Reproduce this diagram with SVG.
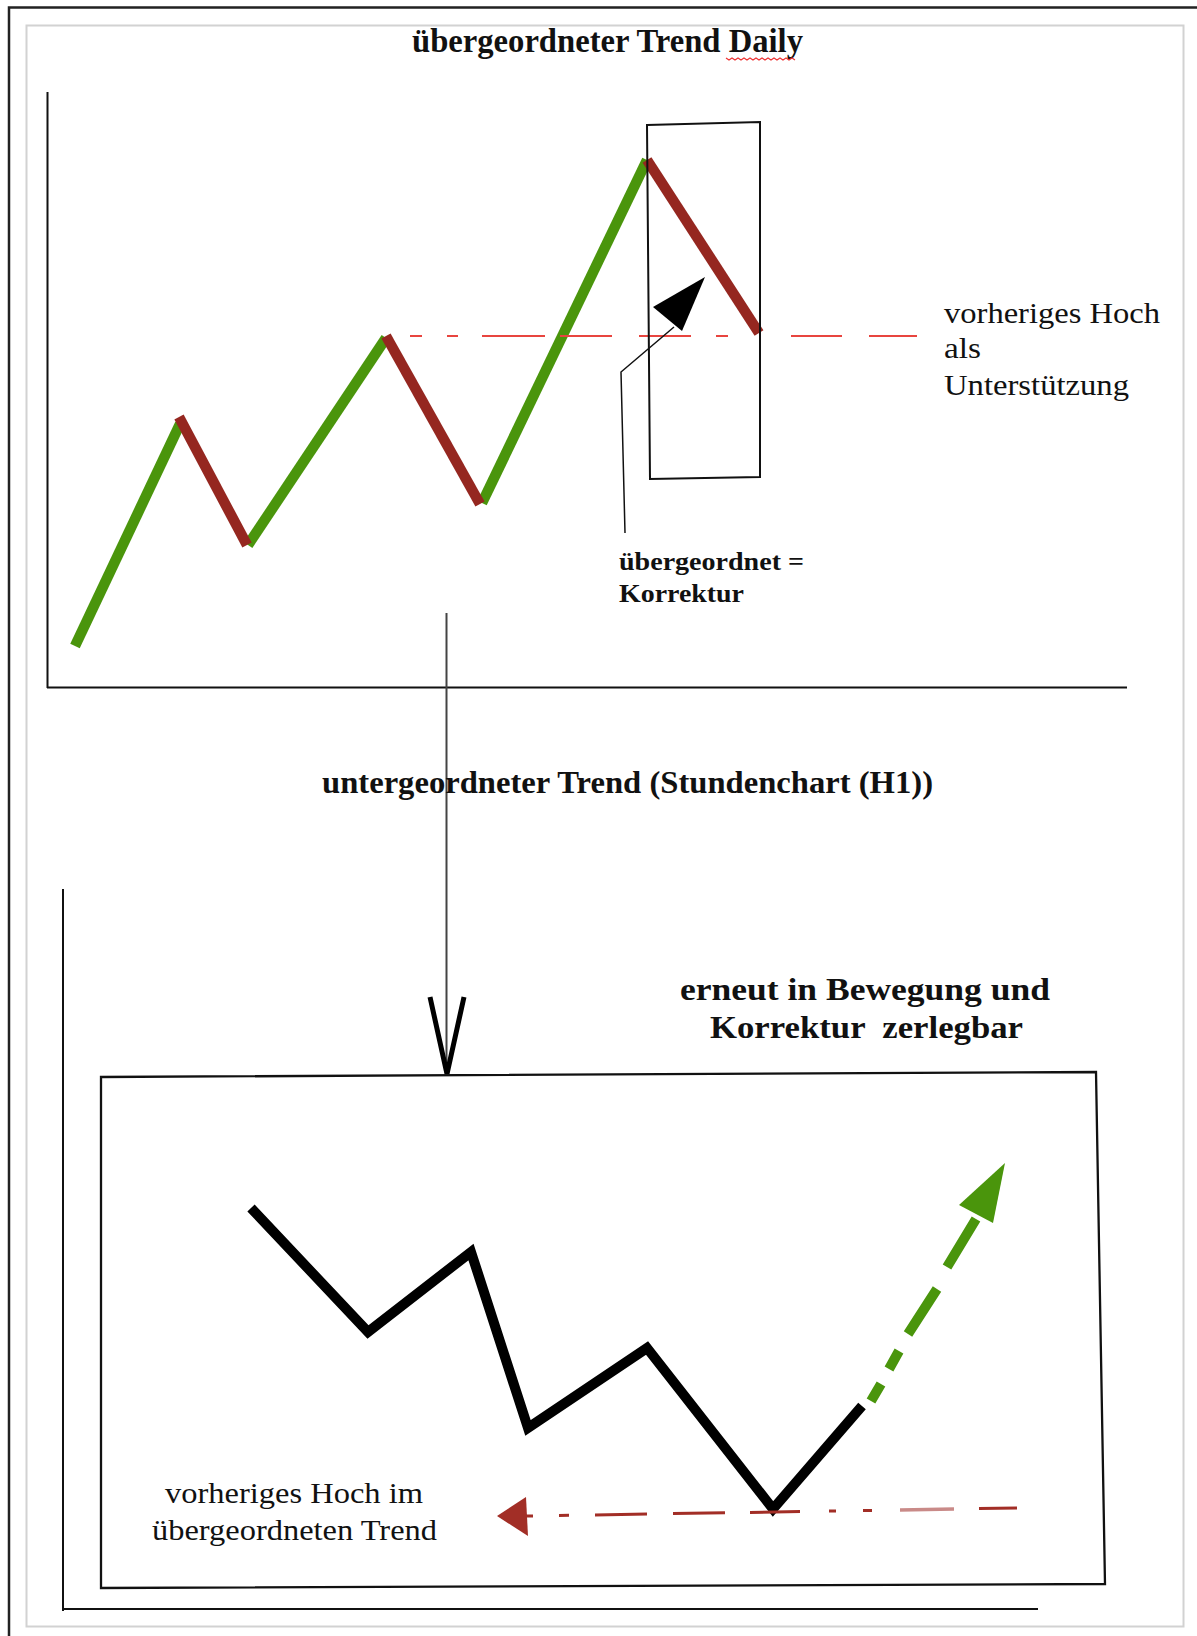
<svg xmlns="http://www.w3.org/2000/svg" width="1197" height="1636" viewBox="0 0 1197 1636">
<style>
.t{font-family:"Liberation Serif","Times New Roman",serif;fill:#111;}
.b{font-weight:bold;}
.ax{stroke:#111;stroke-width:2;fill:none;}
.g{stroke:#4a950c;stroke-width:10.5;fill:none;stroke-linecap:butt;}
.r{stroke:#952720;stroke-width:10.5;fill:none;stroke-linecap:butt;}
.dr{stroke:#e8453f;stroke-width:2;fill:none;}
.dr2{stroke:#a22e26;stroke-width:3;fill:none;}
</style>
<rect width="1197" height="1636" fill="#fff"/>
<g id="frame">
<path d="M9,1636 V7.5 H1197" fill="none" stroke="#222" stroke-width="2.5"/>
<rect x="26.5" y="25.5" width="1157" height="1601" fill="none" stroke="#d2d2d2" stroke-width="2"/>
</g>
<g id="title">
<text class="t b" x="412" y="52" font-size="33" textLength="391" lengthAdjust="spacingAndGlyphs">übergeordneter Trend Daily</text>
<path d="M726,58 l3,2 l3,-2 l3,2 l3,-2 l3,2 l3,-2 l3,2 l3,-2 l3,2 l3,-2 l3,2 l3,-2 l3,2 l3,-2 l3,2 l3,-2 l3,2 l3,-2 l3,2 l3,-2 l3,2 l3,-2 l3,2" fill="none" stroke="#e33" stroke-width="1.2"/>
</g>
<g id="top-chart">
<path class="ax" d="M47.5,92 V688 M47,687.5 H1127"/>
<g id="trend-up">
<path class="g" d="M75,646 L180,424"/>
<path class="g" d="M248,545 L386,338"/>
<path class="g" d="M482,503 L647,160"/>
</g>
<g id="trend-down">
<path class="r" d="M179,417 L247,545"/>
<path class="r" d="M386,336 L480,504"/>
<path class="r" d="M647,160 L759,333"/>
</g>
<g id="support-line">
<path class="dr" d="M410,336 H422 M447,336 H458 M482,336 H545 M560,336 H612 M716,336 H728 M791,336 H842 M869,336 H917"/>
<path class="dr" d="M639,336 H691" stroke="#f08a86" stroke-width="3"/>
</g>
<g id="correction-box">
<path d="M647,125 L760,122 L760,477 L650,479 Z" fill="none" stroke="#111" stroke-width="2"/>
</g>
<g id="correction-label">
<path d="M674,327 L621,372 L625,533" fill="none" stroke="#111" stroke-width="1.5"/>
<polygon points="705,277 653,307 682,331" fill="#000"/>
<text class="t b" x="619" y="570" font-size="25" textLength="185" lengthAdjust="spacingAndGlyphs">übergeordnet =</text>
<text class="t b" x="619" y="602" font-size="25" textLength="125" lengthAdjust="spacingAndGlyphs">Korrektur</text>
</g>
<g id="support-label">
<text class="t" x="944" y="323" font-size="30" textLength="216" lengthAdjust="spacingAndGlyphs">vorheriges Hoch</text>
<text class="t" x="944" y="358" font-size="30" textLength="37" lengthAdjust="spacingAndGlyphs">als</text>
<text class="t" x="944" y="395" font-size="30" textLength="185" lengthAdjust="spacingAndGlyphs">Unterstützung</text>
</g>
</g>
<g id="connectors">
<path d="M446.5,613 V1072" fill="none" stroke="#444" stroke-width="2"/>
<path d="M430,997 L447,1074 L464,997" fill="none" stroke="#000" stroke-width="5"/>
</g>
<g id="sub-title">
<text class="t b" x="322" y="793" font-size="32" textLength="611" lengthAdjust="spacingAndGlyphs">untergeordneter Trend (Stundenchart (H1))</text>
</g>
<g id="sub-note">
<text class="t b" x="680" y="1000" font-size="31" textLength="370" lengthAdjust="spacingAndGlyphs">erneut in Bewegung und</text>
<text class="t b" x="710" y="1038" font-size="31" textLength="313" lengthAdjust="spacingAndGlyphs" xml:space="preserve">Korrektur  zerlegbar</text>
</g>
<g id="bottom-chart">
<path class="ax" d="M63,889 V1611 M63,1609 H1038"/>
<g id="h1-box">
<path d="M101,1077 L1096,1072 L1105,1584 L101,1588 Z" fill="none" stroke="#111" stroke-width="2.3"/>
</g>
<g id="h1-trend">
<path d="M251,1208 L368,1332 L471,1252 L528,1428 L647,1348 L773,1509 L862,1406" fill="none" stroke="#000" stroke-width="10" stroke-linejoin="miter"/>
</g>
<g id="h1-breakout">
<path d="M871,1401 L881,1384 M889,1369 L899,1351 M908,1334 L937,1289 M947,1267 L976,1219" fill="none" stroke="#4a950c" stroke-width="10"/>
<polygon points="1005,1163 959,1205 993,1223" fill="#4a950c"/>
</g>
<g id="h1-support">
<path class="dr2" d="M526,1516 L533,1516 M559,1515.5 L569,1515.3 M595,1515 L647,1514 M673,1513.6 L725,1512.8 M750,1512.4 L800,1511.5 M829,1511 L836,1511 M863,1510.5 L872,1510.4 M979,1508.6 L1017,1508"/>
<path d="M900,1510 L954,1509" stroke="#c98a88" stroke-width="3.5" fill="none"/>
<polygon points="497,1516 526,1497 528,1536" fill="#a22e26"/>
</g>
<g id="h1-label">
<text class="t" x="165" y="1503" font-size="29" textLength="258" lengthAdjust="spacingAndGlyphs">vorheriges Hoch im</text>
<text class="t" x="152" y="1540" font-size="29" textLength="285" lengthAdjust="spacingAndGlyphs">übergeordneten Trend</text>
</g>
</g>
</svg>
